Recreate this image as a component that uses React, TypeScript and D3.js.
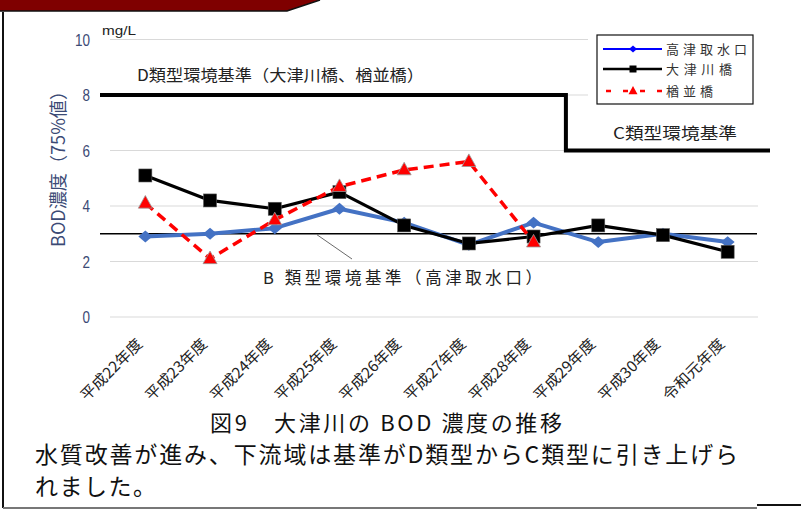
import React from "react";
import * as d3 from "d3";

const categories = ["平成22年度", "平成23年度", "平成24年度", "平成25年度", "平成26年度", "平成27年度", "平成28年度", "平成29年度", "平成30年度", "令和元年度"];
const takatsu = [2.9, 3.0, 3.2, 3.9, 3.4, 2.6, 3.4, 2.7, 3.0, 2.7];
const otsugawa = [5.1, 4.2, 3.9, 4.5, 3.3, 2.65, 2.9, 3.3, 2.95, 2.35];
const narabi = [4.1, 2.1, 3.5, 4.7, 5.3, 5.6, 2.7];
const yTicks = [0, 2, 4, 6, 8, 10];
const seriesNames = ["高津取水口", "大津川橋", "楢並橋"];
// standards: D type up to 平成28年度, then C type; B type for 高津取水口
const stdD = 8;
const stdC = 6;
const stdB = 3;
const stepIndex = 7;

const W = 801;
const H = 511;
const axisColor = "#3b4a75";
const jp = "'Noto Sans CJK JP', sans-serif";
const narrow = "'Liberation Sans Narrow', 'Liberation Sans', sans-serif";

export default function App() {
  const x = d3.scaleBand<string>().domain(categories).range([113, 760]);
  const cx = (i: number) => (x(categories[i]) ?? 0) + x.bandwidth() / 2;
  const y = d3.scaleLinear().domain([0, 10]).range([317, 39.5]);

  const line = d3
    .line<number>()
    .x((_, i) => cx(i))
    .y((d) => y(d));

  const x0 = x.range()[0];
  const x1 = x.range()[1];
  const stepX = x0 + x.step() * stepIndex;
  const stdPath = `M${x0 - 13},${y(stdD)}H${stepX}V${y(stdC)}H${x1 + 10}`;

  const diamond = (px: number, py: number, r: number) =>
    `M${px - r},${py}L${px},${py - r * 0.85}L${px + r},${py}L${px},${py + r * 0.85}Z`;
  const triangle = (px: number, py: number, r: number) =>
    `M${px},${py - r * 1.1}L${px + r},${py + r * 0.7}L${px - r},${py + r * 0.7}Z`;

  const legendRows = [49, 69, 91];

  return (
    <svg width={W} height={H} style={{ position: "absolute", left: 0, top: 0, background: "#fff" }}>
      {/* frame */}
      <polygon points="0,0 320,0 287,11 0,11" fill="#7f0000" />
      <polyline points="0,11 287,11 320,0" fill="none" stroke="#111" strokeWidth={1.5} />
      <line x1={3} y1={12} x2={3} y2={508} stroke="#111" strokeWidth={2} />
      <line x1={3} y1={508} x2={757} y2={508} stroke="#777" strokeWidth={2} />
      <line x1={757} y1={505} x2={801} y2={505} stroke="#111" strokeWidth={2} />

      {/* grid */}
      {yTicks.map((t) => (
        <g key={t}>
          <line x1={110} x2={758} y1={y(t)} y2={y(t)} stroke="#d9d9d9" strokeWidth={1.2} />
          <text
            x={90}
            y={y(t) + 6}
            textAnchor="end"
            fontFamily={narrow}
            fontSize={17}
            fill={axisColor}
            textLength={String(t).length * 7.5}
            lengthAdjust="spacingAndGlyphs"
          >
            {t}
          </text>
        </g>
      ))}
      <text x={102} y={35} fontFamily={narrow} fontSize={12} fill="#222" textLength={34} lengthAdjust="spacingAndGlyphs">mg/L</text>
      <text
        transform={`translate(65,164.5) rotate(-90)`}
        textAnchor="middle"
        fontFamily={jp}
        fontSize={18}
        fill={axisColor}
        textLength={165}
        lengthAdjust="spacingAndGlyphs"
      >
        BOD濃度（75%値）
      </text>

      {/* x labels */}
      {categories.map((c, i) => (
        <text
          key={c}
          transform={`translate(${cx(i) - 2},345) rotate(-45)`}
          textAnchor="end"
          fontFamily={jp}
          fontSize={15}
          fill="#222"
          textLength={80}
          lengthAdjust="spacingAndGlyphs"
        >
          {c}
        </text>
      ))}

      {/* standards */}
      <path d={stdPath} fill="none" stroke="#000" strokeWidth={4} />
      <line x1={x0 - 13} x2={757} y1={y(stdB)} y2={y(stdB)} stroke="#000" strokeWidth={1.3} />
      <line x1={317} y1={y(stdB) + 1} x2={352} y2={259} stroke="#444" strokeWidth={0.8} />
      <text x={137} y={81} fontFamily={jp} fontSize={16} fill="#222" textLength={287} lengthAdjust="spacingAndGlyphs">
        D類型環境基準（大津川橋、楢並橋）
      </text>
      <text x={613} y={139} fontFamily={jp} fontSize={16} fill="#222" textLength={124} lengthAdjust="spacingAndGlyphs">
        C類型環境基準
      </text>
      <text x={263} y={284} fontFamily={jp} fontSize={16.5} fill="#222" textLength={279} lengthAdjust="spacing">
        B 類型環境基準（高津取水口）
      </text>

      {/* series */}
      <path d={line(takatsu) ?? ""} fill="none" stroke="#4472c4" strokeWidth={4} strokeLinejoin="round" />
      {takatsu.map((d, i) => (
        <path key={i} d={diamond(cx(i), y(d), 7)} fill="#4472c4" />
      ))}
      <path d={line(otsugawa) ?? ""} fill="none" stroke="#000" strokeWidth={3.2} strokeLinejoin="round" />
      {otsugawa.map((d, i) => (
        <rect key={i} x={cx(i) - 6.5} y={y(d) - 6.5} width={13} height={13} fill="#000" stroke="#555" strokeWidth={0.6} />
      ))}
      <path d={line(narabi) ?? ""} fill="none" stroke="#ff0000" strokeWidth={3.5} strokeDasharray="10,6" />
      {narabi.map((d, i) => (
        <path key={i} d={triangle(cx(i), y(d), 7)} fill="#ff0000" stroke="#999" strokeWidth={0.8} />
      ))}

      {/* legend */}
      <rect x={588} y={30} width={172} height={78} fill="#fff" />
      <rect x={597} y={35} width={156} height={69} fill="#fff" stroke="#111" strokeWidth={1.2} />
      <line x1={603} x2={662} y1={legendRows[0]} y2={legendRows[0]} stroke="#0000ff" strokeWidth={2} />
      <path d={diamond(633, legendRows[0], 4)} fill="#0000ff" />
      <line x1={603} x2={662} y1={legendRows[1]} y2={legendRows[1]} stroke="#000" strokeWidth={2.5} />
      <rect x={629.5} y={legendRows[1] - 3.5} width={7} height={7} fill="#000" />
      <line x1={603} x2={662} y1={legendRows[2]} y2={legendRows[2]} stroke="#ff0000" strokeWidth={2.5} strokeDasharray="5,12" strokeDashoffset={-3} />
      <path d={triangle(633, legendRows[2], 4.5)} fill="#ff0000" />
      {seriesNames.map((n, i) => (
        <text
          key={n}
          x={666}
          y={legendRows[i] + 5}
          fontFamily={jp}
          fontSize={13}
          fill="#333"
          textLength={[81, 66, 47][i]}
          lengthAdjust="spacing"
        >
          {n}
        </text>
      ))}

      {/* caption */}
      <text x={210} y={431} fontFamily={jp} fontSize={22} fill="#111" textLength={352} lengthAdjust="spacing">
        図9　大津川の BOD 濃度の推移
      </text>
      <text x={35} y={463} fontFamily={jp} fontSize={23} fill="#111" textLength={703} lengthAdjust="spacing">
        水質改善が進み、下流域は基準がD類型からC類型に引き上げら
      </text>
      <text x={35} y={495} fontFamily={jp} fontSize={23} fill="#111" textLength={121} lengthAdjust="spacing">
        れました。
      </text>
    </svg>
  );
}
